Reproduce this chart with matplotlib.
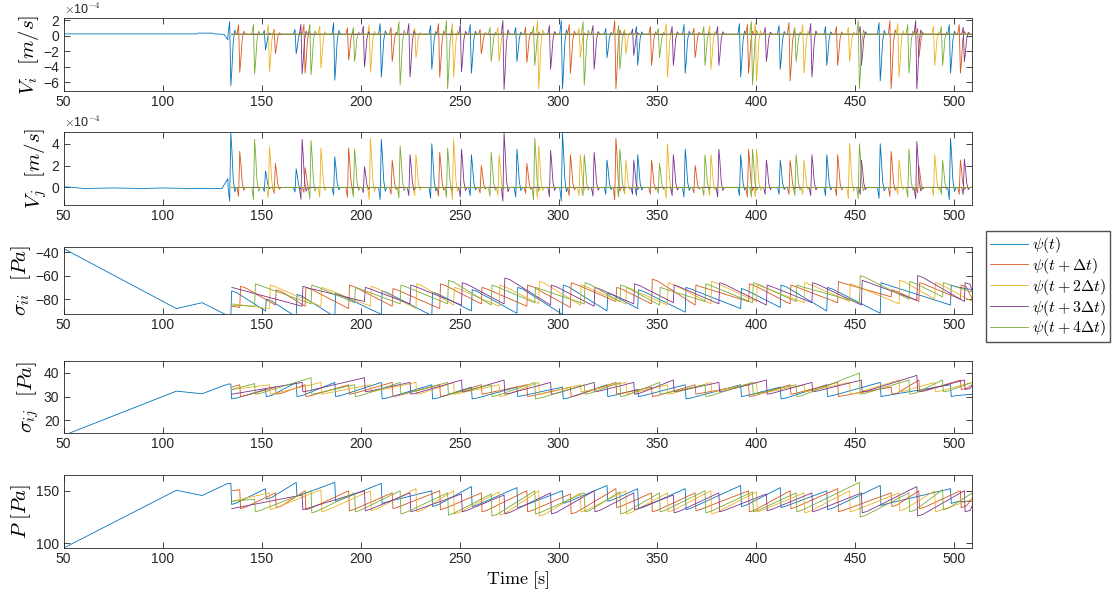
import matplotlib
matplotlib.use("Agg")
import matplotlib.pyplot as plt
from matplotlib.lines import Line2D

plt.rcParams.update({
    "font.family": "Liberation Sans",
    "font.size": 10,
    "mathtext.fontset": "cm",
    "axes.edgecolor": "#262626",
    "axes.linewidth": 0.6,
    "xtick.color": "#262626",
    "ytick.color": "#262626",
})

COLORS = ["#0072BD", "#D95319", "#EDB120", "#7E2F8E", "#77AC30"]
NAMES = [r"$\psi(t)$", r"$\psi(t+\Delta t)$", r"$\psi(t+2\Delta t)$",
         r"$\psi(t+3\Delta t)$", r"$\psi(t+4\Delta t)$"]
X_END = 509

# slip event times [s] for each series
ev_blue = [134.5, 152, 167.5, 187, 210.5, 236, 256, 279, 302, 324.5, 340, 364, 392, 412, 435.5, 462.5, 498]
ev_orange = [139, 157, 172, 194, 216, 240, 261, 284, 306, 329, 347, 369, 396, 417, 441, 468, 482, 503]
ev_yellow = [154, 180, 205, 228, 247, 270, 290, 311, 334, 355, 377, 400, 424, 447, 472, 490]
ev_purple = [170.5, 202, 225, 251, 272.5, 296, 318, 338, 358, 381, 405, 428, 453, 481, 505]
ev_green = [146.5, 175, 197, 220, 244, 266, 288, 313, 331, 351, 374, 398, 420, 452, 477, 494]
events = [ev_blue, ev_orange, ev_yellow, ev_purple, ev_green]

# psi(t) before the first slip (blue only)
head_t = [50, 107, 120, 133]
head_sii = [-37, -88, -83, -94]
head_sij = [13.5, 32.3, 31.2, 35.3]
head_p = [95.5, 150.5, 145.5, 157]
head_vi_t = [50, 117, 118, 125, 126, 131, 133]
head_vi = [0.25, 0.25, 0.35, 0.35, 0.25, 0.2, -0.5]
head_vj_t = [50, 55, 60, 75, 90, 100, 115, 130, 133]
head_vj = [0.05, 0.0, -0.1, -0.05, -0.1, -0.05, -0.1, -0.1, 0.8]

# first value of the shifted series at t = 135 s
start_sii = [None, -86, -84, -70, -85]
start_sij = [None, 34, 33, 31, 33]
start_p = [None, 150, 140, 133, 140]

# sigma_ii [Pa]: value before / after each slip, value at the right edge
sii_pre = [
    [-94, -90, -95, -95, -93, -94, -90, -92, -93, -90, -88, -91, -88, -87, -90, -92, -85],
    [-87, -85, -86, -88, -86, -88, -84, -86, -87, -82, -84, -85, -82, -84, -83, -78, -82, -80],
    [-88, -86, -86, -88, -85, -86, -84, -85, -84, -85, -84, -82, -83, -82, -84, -80],
    [-86, -82, -84, -85, -84, -85, -86, -84, -83, -84, -85, -83, -85, -81, -82],
    [-86, -84, -83, -84, -84, -85, -83, -84, -82, -85, -82, -83, -82, -83, -80, -78],
]
sii_post = [
    [-73, -80, -76, -75, -73, -74, -72, -70, -68, -75, -72, -70, -71, -68, -70, -66, -68],
    [-69, -72, -70, -68, -71, -67, -70, -68, -66, -70, -63, -68, -67, -68, -65, -72, -66, -68],
    [-68, -70, -69, -67, -70, -68, -65, -68, -70, -66, -65, -68, -66, -67, -64, -66],
    [-69, -70, -68, -66, -62, -68, -70, -67, -68, -66, -68, -66, -64, -60, -66],
    [-67, -68, -70, -68, -64, -68, -70, -66, -68, -70, -67, -66, -68, -60, -65, -66],
]
sii_end = [-72, -80, -82, -74, -74]

# sigma_ij [Pa]
sij_pre = [
    [35.3, 33, 36, 36, 36, 35, 34, 34, 34, 35, 33, 35, 35, 34, 35, 36, 35],
    [35, 34, 35, 35, 36, 35, 35, 35, 34, 36, 34, 35, 35, 35, 36, 34, 37, 37],
    [35, 36, 35, 36, 36, 35, 36, 35, 36, 35, 36, 36, 35, 36, 37, 36],
    [36, 38, 36, 37, 37, 36, 36, 36, 37, 36, 37, 36, 37, 39, 37],
    [35.5, 38, 35, 36, 36, 35, 36, 35, 36, 36, 35, 36, 35, 40, 37, 37],
]
sij_post = [
    [29, 30, 30, 30, 29, 29, 29, 30, 29, 30, 30, 29, 30, 29, 30, 30, 30],
    [30, 31, 30, 31, 30, 30, 31, 30, 30, 31, 30, 31, 30, 31, 30, 31, 32, 33],
    [31, 31, 32, 31, 31, 30, 31, 32, 31, 31, 32, 31, 32, 31, 32, 32],
    [32, 32, 31, 32, 31, 31, 32, 31, 32, 32, 31, 32, 32, 32, 33],
    [31, 31, 30, 31, 31, 30, 29, 31, 30, 31, 30, 31, 30, 31, 31, 32],
]
sij_end = [31, 35, 36, 35, 36]

# P [Pa]
p_pre = [
    [157, 152, 158, 158, 157, 150, 154, 153, 150, 155, 152, 152, 155, 153, 150, 155, 152],
    [151, 148, 150, 150, 148, 150, 148, 150, 147, 152, 148, 148, 150, 150, 152, 148, 150, 150],
    [148, 151, 150, 152, 150, 149, 150, 148, 150, 148, 150, 149, 148, 150, 148, 150],
    [146, 150, 148, 147, 146, 148, 150, 148, 146, 148, 147, 148, 148, 154, 150],
    [142, 150, 148, 150, 148, 147, 150, 148, 149, 148, 150, 149, 148, 158, 148, 151],
]
p_post = [
    [137, 142, 145, 140, 138, 135, 135, 134, 138, 140, 133, 132, 135, 134, 132, 136, 138],
    [133, 134, 132, 131, 133, 132, 130, 130, 128, 134, 130, 131, 130, 133, 130, 135, 133, 134],
    [132, 130, 131, 130, 128, 127, 126, 130, 128, 130, 128, 130, 129, 130, 131, 130],
    [132, 131, 130, 130, 128, 128, 130, 132, 129, 130, 131, 130, 129, 126, 130],
    [130, 129, 130, 128, 127, 126, 128, 130, 128, 130, 129, 130, 130, 125, 130, 132],
]
p_end = [140, 143, 142, 136, 148]

# velocity spike peaks at each slip [x 1e-4 m/s]
vi_amp = [
    [-6.6, -2, -2.5, -5.9, -5.5, -4.5, -5, -3.5, -7, -3, -4, -5, -5.5, -4.5, -4, -6, -5],
    [-4.9, -2.5, -5, -3.3, -3.5, -5.5, -2.5, -3.6, -5, -7, -4, -3, -5, -6, -4, -7, -3, -5],
    [-4.8, -4.3, -4.9, -3, -5.5, -3.5, -7, -3, -2.5, -5.5, -4.5, -6, -5, -3.5, -5.5, -4],
    [-5.1, -4.2, -5.5, -4.8, -7.1, -4.5, -4.5, -2.7, -4, -4, -3.5, -5.5, -4, -7, -3.5],
    [-5.1, -5.2, -3.5, -6.5, -7, -3.5, -4, -6.5, -4.5, -3, -4, -6.5, -3.5, -7, -5, -4],
]
vj_amp = [
    [5, 1.5, 1.7, 2.8, 4.4, 4, 3, 3.5, 5, 2.5, 3, 3.5, 3, 2.5, 3, 4, 4.5],
    [3.3, 2.2, 1.8, 3.6, 2.5, 3.2, 2, 2.2, 3, 4.5, 2.5, 2, 3.5, 2.5, 3, 3.3, 2, 2.5],
    [3.7, 3.6, 4.5, 3, 4.4, 3, 3.8, 3, 2.5, 4, 3, 3.5, 2.5, 4, 2.5, 3],
    [4.4, 1.9, 3, 3.5, 5, 3.4, 3.2, 2.5, 3, 3.5, 2.5, 3, 2.5, 4.2, 2.6],
    [4.4, 4.3, 3.5, 3.8, 3.6, 3.2, 4.5, 3, 3.5, 2.2, 3, 3.5, 3, 4, 3.5, 2.5],
]
vi_base = 0.2
vj_base = 0.0

# shape of one velocity pulse (offsets in s, fraction of the peak)
PULSE_DT = [-1.4, -0.6, 0.0, 0.5, 1.2, 2.0, 2.8]
PULSE_F = [0.0, -0.25, 1.0, 0.7, 0.15, -0.08, 0.0]
# plateau kept for a few seconds after each slip: (delay, drift)
SHOULDER = {"sii": (3.0, -1.5), "sij": (3.0, 0.4), "p": (3.0, 1.5)}


def stick_slip(k, head_v, start, pre, post, end, shoulder):
    dly, drift = shoulder
    if k == 0:
        t, v = list(head_t), list(head_v)
    else:
        t, v = [135], [start[k]]
    for e, a, b in zip(events[k], pre[k], post[k]):
        t += [e, e + 0.4]
        v += [a, b]
        if e + dly < X_END:
            t.append(e + dly)
            v.append(b + drift)
    t.append(X_END)
    v.append(end[k])
    return t, v


def pulses(k, ht, hv, base, amp):
    if k == 0:
        t, v = list(ht), list(hv)
    else:
        t, v = [135], [base]
    for e, a in zip(events[k], amp[k]):
        for dt, f in zip(PULSE_DT, PULSE_F):
            t.append(e + dt)
            v.append(base + f * a)
    t.append(X_END)
    v.append(base)
    return t, v


fig = plt.figure(figsize=(11.15, 5.99), dpi=100)
L, W = 0.057, 0.815
boxes = [(0.848, 0.122), (0.658, 0.122), (0.476, 0.112), (0.277, 0.120), (0.085, 0.122)]
axs = [fig.add_axes([L, b, W, h]) for b, h in boxes]

for k in range(5):
    kw = dict(color=COLORS[k], lw=0.6)
    axs[0].plot(*pulses(k, head_vi_t, head_vi, vi_base, vi_amp), **kw)
    axs[1].plot(*pulses(k, head_vj_t, head_vj, vj_base, vj_amp), **kw)
    axs[2].plot(*stick_slip(k, head_sii, start_sii, sii_pre, sii_post, sii_end, SHOULDER["sii"]), **kw)
    axs[3].plot(*stick_slip(k, head_sij, start_sij, sij_pre, sij_post, sij_end, SHOULDER["sij"]), **kw)
    axs[4].plot(*stick_slip(k, head_p, start_p, p_pre, p_post, p_end, SHOULDER["p"]), **kw)

ylims = [(-7.1, 2.3), (-1.6, 5.1), (-92.5, -35.5), (14.5, 45), (95.5, 165)]
yticks = [[-6, -4, -2, 0, 2], [0, 2, 4], [-80, -60, -40], [20, 30, 40], [100, 150]]
ylabels = [r"$V_i\ \ [m/s]$", r"$V_j\ \ [m/s]$", r"$\sigma_{ii}\ \ [Pa]$",
           r"$\sigma_{ij}\ \ [Pa]$", r"$P\ [Pa]$"]
for ax, yl, yt, lab in zip(axs, ylims, yticks, ylabels):
    ax.set_xlim(50, X_END)
    ax.set_ylim(*yl)
    ax.set_yticks(yt)
    ax.set_xticks(range(50, 501, 50))
    ax.tick_params(direction="in", length=4, width=0.6, top=True, right=True, pad=3)
    ax.set_ylabel(lab, fontsize=15, labelpad=2)

for ax in axs[:2]:
    ax.text(0.0, 1.02, r"$\times$10$^{-4}$", transform=ax.transAxes,
            fontsize=9, color="#262626", ha="left", va="bottom",
            family="Liberation Sans")

axs[4].set_xlabel(r"$\mathrm{Time\ [s]}$", fontsize=13, labelpad=2)

handles = [Line2D([], [], color=c, lw=0.6) for c in COLORS]
fig.legend(handles, NAMES, loc="upper left", bbox_to_anchor=(0.884, 0.614),
           fontsize=11.5, frameon=True, fancybox=False, edgecolor="#262626",
           handlelength=2.4, handletextpad=0.25, borderpad=0.25, labelspacing=0.05,
           borderaxespad=0)

fig.savefig("out.png", dpi=100)
